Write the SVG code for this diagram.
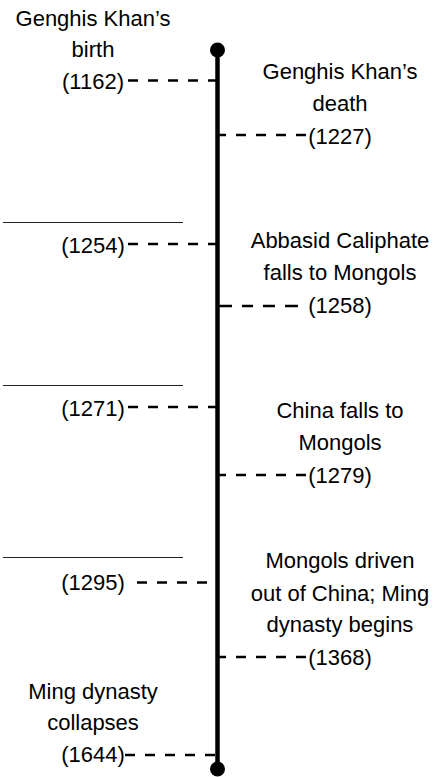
<svg xmlns="http://www.w3.org/2000/svg" width="444" height="777" viewBox="0 0 444 777">
<style>
text{font-family:"Liberation Sans",Arial,sans-serif;font-size:22px;fill:#000;text-anchor:middle}
.dash{stroke:#000;stroke-width:2.6;stroke-dasharray:10 10;fill:none}
.blank{stroke:#222;stroke-width:1}
.axis{stroke:#000;stroke-width:4.5}
</style>
<rect width="444" height="777" fill="#fff"/>
<g id="axis">
<line class="axis" x1="217.5" y1="50" x2="217.5" y2="769"/>
<circle cx="217.5" cy="50" r="7.5"/>
<circle cx="217.5" cy="769" r="7.5"/>
</g>
<g id="connectors">
<path class="dash" d="M128 80.5H217"/>
<path class="dash" d="M306 135H217"/>
<path class="dash" d="M128 244H217"/>
<path class="dash" d="M217 306H298" style="stroke-dasharray:15 10 11 10 12 10 13"/>
<path class="dash" d="M128 407H217"/>
<path class="dash" d="M306 475H217"/>
<path class="dash" d="M137 582.5H217"/>
<path class="dash" d="M306 657H217"/>
<path class="dash" d="M125 755H217"/>
</g>
<g id="birth"><text x="93" y="26">Genghis Khan’s</text><text x="93" y="57">birth</text><text x="93" y="89">(1162)</text></g>
<g id="death"><text x="340" y="79">Genghis Khan’s</text><text x="340" y="111">death</text><text x="340" y="144">(1227)</text></g>
<g id="e1254"><line class="blank" x1="3" y1="222.5" x2="183" y2="222.5"/><text x="93" y="253">(1254)</text></g>
<g id="abbasid"><text x="340" y="248">Abbasid Caliphate</text><text x="340" y="280">falls to Mongols</text><text x="340" y="313">(1258)</text></g>
<g id="e1271"><line class="blank" x1="3" y1="385.5" x2="183" y2="385.5"/><text x="93" y="416">(1271)</text></g>
<g id="china"><text x="340" y="418">China falls to</text><text x="340" y="450">Mongols</text><text x="340" y="483">(1279)</text></g>
<g id="e1295"><line class="blank" x1="3" y1="557.5" x2="183" y2="557.5"/><text x="93" y="590">(1295)</text></g>
<g id="ming"><text x="340" y="568">Mongols driven</text><text x="340" y="601">out of China; Ming</text><text x="340" y="632">dynasty begins</text><text x="340" y="665">(1368)</text></g>
<g id="collapse"><text x="93" y="699">Ming dynasty</text><text x="93" y="730">collapses</text><text x="93" y="762">(1644)</text></g>
</svg>
